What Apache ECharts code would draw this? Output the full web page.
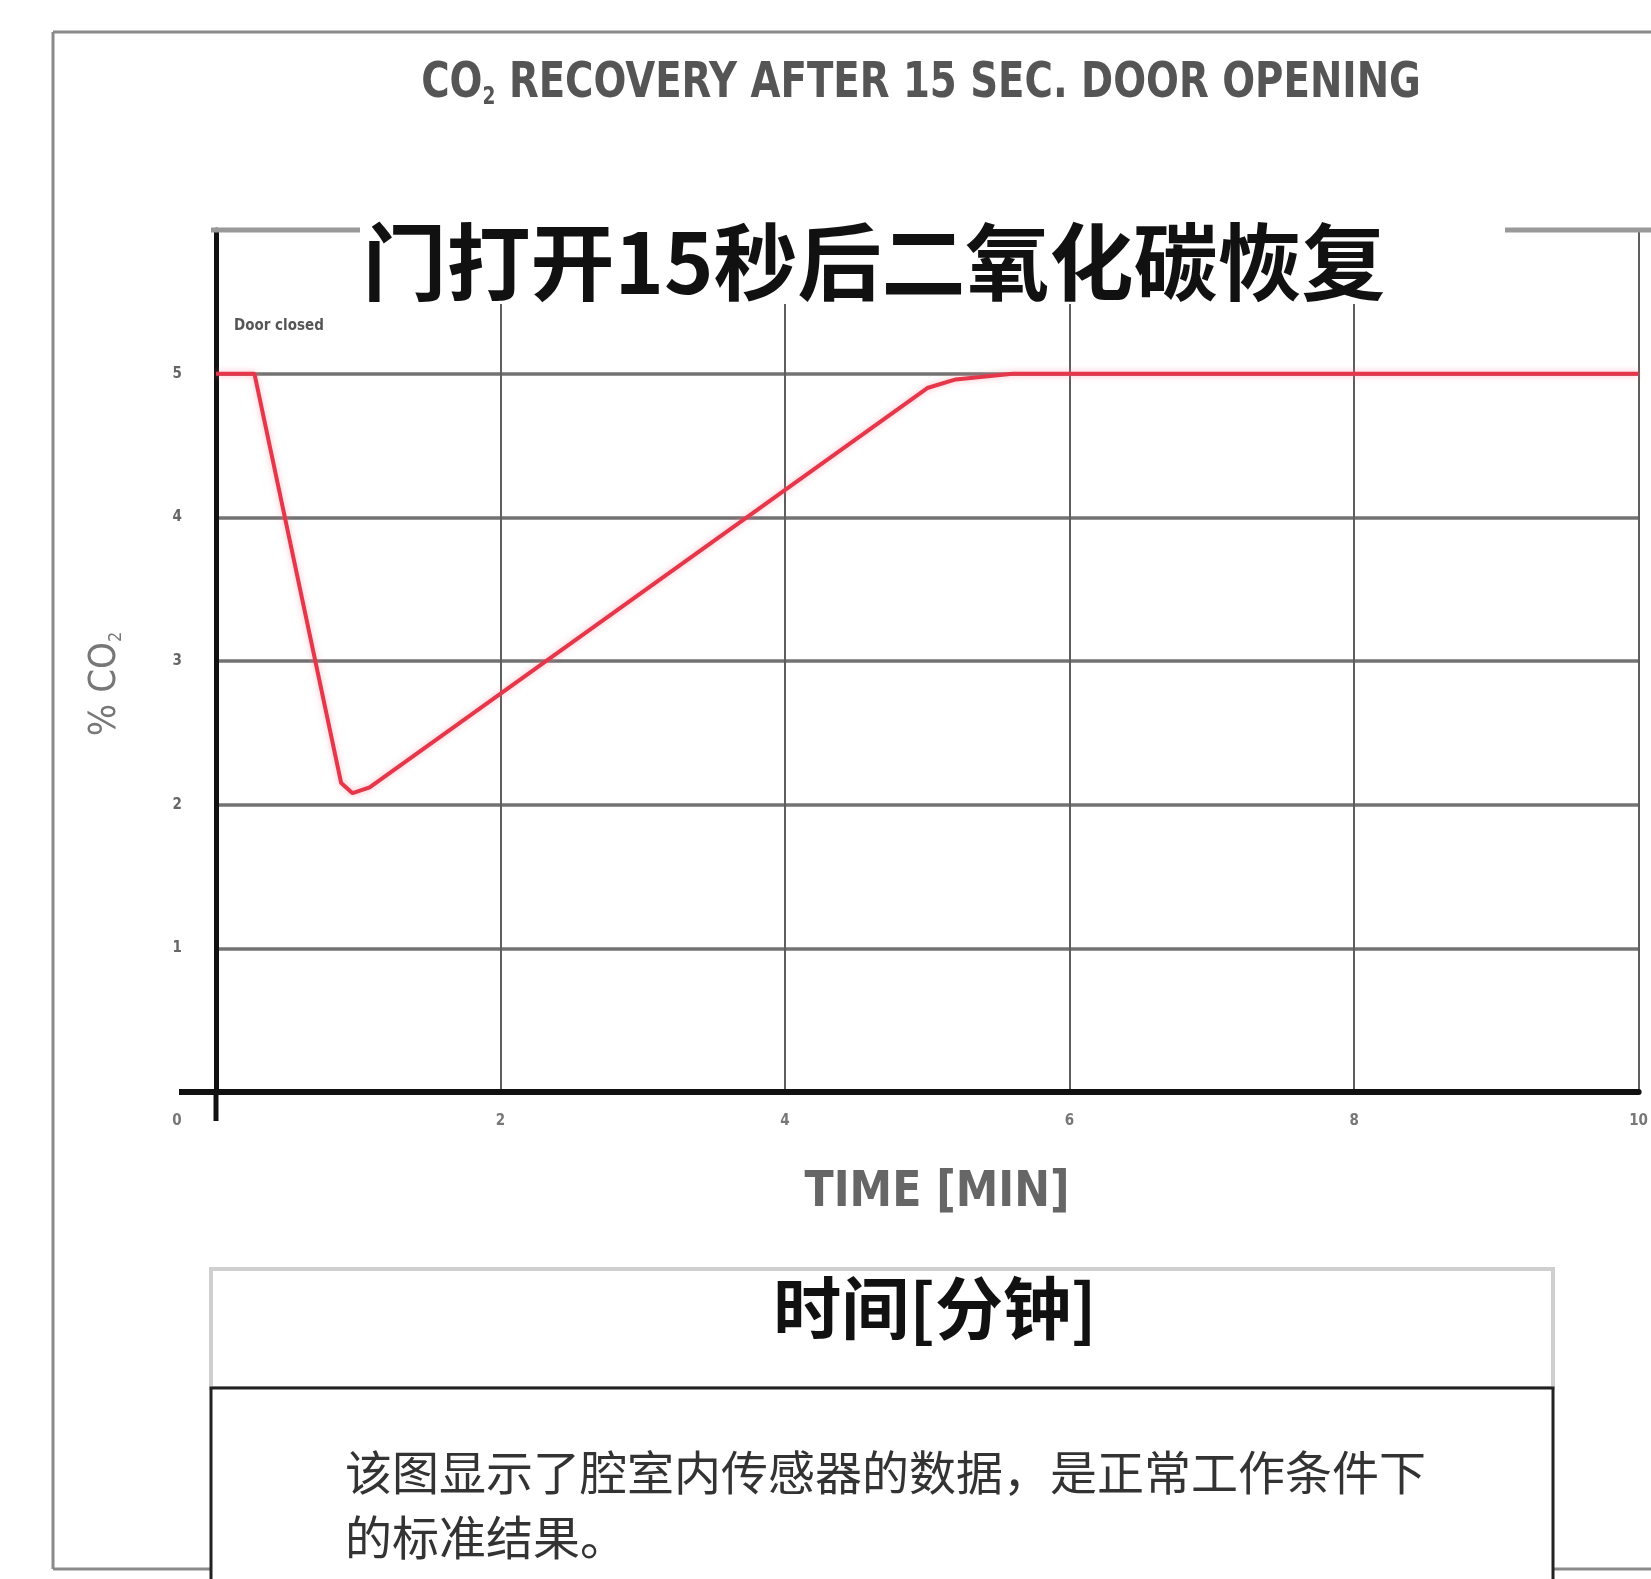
<!DOCTYPE html>
<html><head><meta charset="utf-8">
<script src="https://cdn.jsdelivr.net/npm/echarts@6/dist/echarts.min.js"></script>
<style>html,body{margin:0;padding:0;background:#fff}#c{width:1651px;height:1579px}</style>
</head><body><div id="c"></div>
<script>
const timeMin = [0, 0.27, 0.88, 0.96, 1.08, 5.0, 5.2, 5.6, 10];
const co2Pct = [5, 5, 2.15, 2.08, 2.12, 4.9, 4.96, 5.0, 5.0];
const xTicks = [0, 2, 4, 6, 8, 10];
const yTicks = [1, 2, 3, 4, 5];
const titleEn = 'RECOVERY AFTER 15 SEC. DOOR OPENING';
const titleZh = '门打开15秒后二氧化碳恢复';
const xNameEn = 'TIME [MIN]';
const xNameZh = '时间[分钟]';
const noteZh1 = '该图显示了腔室内传感器的数据，是正常工作条件下';
const noteZh2 = '的标准结果。';
const annot = 'Door closed';

const chart = echarts.init(document.getElementById('c'));
const narrow = "'Liberation Sans Narrow','DejaVu Sans Condensed',sans-serif";
const data = timeMin.map((t, i) => [t, co2Pct[i]]);
chart.setOption({
  animation: false,
  backgroundColor: '#fff',
  grid: { left: 216, top: 230, right: 1, bottom: 487 },
  xAxis: {
    type: 'value', min: 0, max: 10, interval: 2,
    axisLine: { show: true, lineStyle: { color: '#111', width: 6 } },
    axisTick: { show: false },
    splitLine: { show: true, lineStyle: { color: '#5e5e5e', width: 2 } },
    axisLabel: {
      margin: 22, fontSize: 15, fontWeight: 'bold', color: '#777', fontFamily: narrow,
      formatter: v => xTicks.includes(v) ? (v === 0 ? '{z|0}' : String(v)) : '',
      rich: { z: { fontSize: 15, fontWeight: 'bold', color: '#777', padding: [0, 78, 0, 0] } },
      showMaxLabel: true
    }
  },
  yAxis: {
    type: 'value', min: 0, max: 6, interval: 1,
    axisLine: { show: true, lineStyle: { color: '#111', width: 5 } },
    axisTick: { show: false },
    splitLine: { show: true, lineStyle: { color: '#727272', width: 3.5 } },
    axisLabel: {
      margin: 34, fontSize: 15, fontWeight: 'bold', color: '#666', fontFamily: narrow,
      padding: [0, 0, 14, 0],
      formatter: v => yTicks.includes(v) ? String(v) : ''
    }
  },
  series: [{
    type: 'line', data: data, showSymbol: false, smooth: false,
    lineStyle: { color: '#e5364a', width: 4, shadowColor: 'rgba(255,120,140,0.5)', shadowBlur: 6 },
    z: 5
  }],
  graphic: [
    { type: 'line', shape: { x1: 53, y1: 32, x2: 1651, y2: 32 }, style: { stroke: '#8a8a8a', lineWidth: 3 } },
    { type: 'line', shape: { x1: 53, y1: 32, x2: 53, y2: 1569 }, style: { stroke: '#8a8a8a', lineWidth: 3 } },
    { type: 'line', shape: { x1: 53, y1: 1569, x2: 211, y2: 1569 }, style: { stroke: '#8a8a8a', lineWidth: 3 } },
    { type: 'line', shape: { x1: 1553, y1: 1569, x2: 1651, y2: 1569 }, style: { stroke: '#8a8a8a', lineWidth: 3 } },
    { type: 'line', shape: { x1: 179, y1: 1092, x2: 216, y2: 1092 }, style: { stroke: '#111', lineWidth: 6 } },
    { type: 'line', shape: { x1: 216, y1: 1092, x2: 216, y2: 1121 }, style: { stroke: '#111', lineWidth: 5 } },
    { type: 'line', shape: { x1: 211, y1: 230, x2: 1651, y2: 230 }, style: { stroke: '#999', lineWidth: 5 }, z: 10 },
    { type: 'rect', shape: { x: 360, y: 200, width: 1145, height: 104 }, style: { fill: '#fff' }, z: 20 },
    { type: 'text', x: 874, y: 262, z: 21, style: { text: titleZh, font: "bold 84px 'Noto Sans CJK SC'", fill: '#111', align: 'center', verticalAlign: 'middle' } },
    { type: 'text', x: 921, y: 84, scaleX: 0.86, z: 21, style: {
        text: '{a|CO}{s|2}{a| ' + titleEn + '}', align: 'center', verticalAlign: 'middle',
        rich: { a: { fontFamily: narrow, fontWeight: 'bold', fontSize: 50, fill: '#555' },
                s: { fontFamily: narrow, fontWeight: 'bold', fontSize: 24, fill: '#555', padding: [28, 0, 0, 0] } } } },
    { type: 'text', x: 234, y: 326, z: 21, style: { text: annot, font: "bold 15px " + narrow, fill: '#555', verticalAlign: 'middle' } },
    { type: 'text', x: 105, y: 684, rotation: Math.PI / 2, z: 21, style: {
        text: '{a|% CO}{s|2}', align: 'center', verticalAlign: 'middle',
        rich: { a: { fontFamily: narrow, fontSize: 38, fill: '#777' },
                s: { fontFamily: narrow, fontSize: 18, fill: '#777', padding: [22, 0, 0, 0] } } } },
    { type: 'text', x: 937, y: 1193, scaleX: 0.95, z: 21, style: { text: xNameEn, font: "bold 50px " + narrow, fill: '#666', align: 'center', verticalAlign: 'middle' } },
    { type: 'rect', shape: { x: 211, y: 1269, width: 1342, height: 119 }, style: { fill: '#fff', stroke: '#cfcfcf', lineWidth: 4 }, z: 20 },
    { type: 'text', x: 935, y: 1308, z: 21, style: { text: xNameZh, font: "bold 68px 'Noto Sans CJK SC'", fill: '#111', align: 'center', verticalAlign: 'middle' } },
    { type: 'rect', shape: { x: 211, y: 1388, width: 1342, height: 220 }, style: { fill: '#fff', stroke: '#222', lineWidth: 3 }, z: 22 },
    { type: 'text', x: 345, y: 1472, z: 23, style: { text: noteZh1, font: "47px 'Noto Sans CJK SC'", fill: '#333', verticalAlign: 'middle' } },
    { type: 'text', x: 345, y: 1537, z: 23, style: { text: noteZh2, font: "47px 'Noto Sans CJK SC'", fill: '#333', verticalAlign: 'middle' } }
  ]
});
</script></body></html>
